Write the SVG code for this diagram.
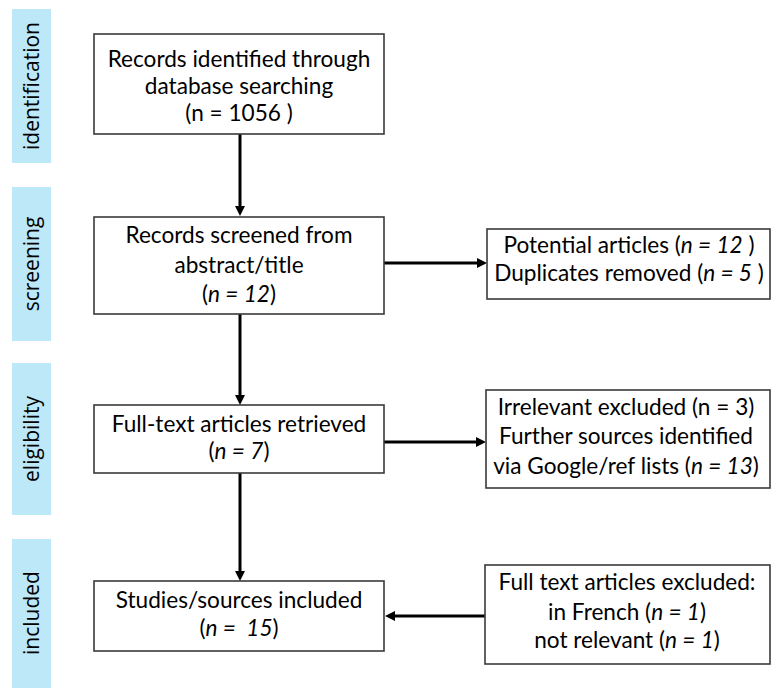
<svg xmlns="http://www.w3.org/2000/svg" width="771" height="688" viewBox="0 0 771 688">
<style>
.bar{fill:#bde8f8;}
.lbl{font-family:"Open Sans","DejaVu Sans",sans-serif;font-size:21px;fill:#000;text-anchor:middle;}
.box{fill:#fff;stroke:#3a3a3a;stroke-width:1.6;}
.t{font-family:Lato,"Liberation Sans",sans-serif;font-size:22.6px;fill:#000;text-anchor:middle;}
.i{font-style:italic;}
.con{stroke:#000;stroke-width:3;fill:none;}
</style>
<defs>
<marker id="ah" markerUnits="userSpaceOnUse" markerWidth="10" markerHeight="10" refX="0" refY="5" orient="auto" overflow="visible">
<path d="M0,0 L10,5 L0,10 z" fill="#000"/>
</marker>
</defs>
<rect width="771" height="688" fill="#fff"/>
<g id="stages">
<g id="stage-identification"><rect class="bar" x="12" y="9" width="39" height="154"/><text class="lbl" transform="translate(39,86) rotate(-90)">identification</text></g>
<g id="stage-screening"><rect class="bar" x="12" y="187" width="39" height="154"/><text class="lbl" transform="translate(39,264) rotate(-90)">screening</text></g>
<g id="stage-eligibility"><rect class="bar" x="12" y="363" width="39" height="152"/><text class="lbl" transform="translate(39,439) rotate(-90)">eligibility</text></g>
<g id="stage-included"><rect class="bar" x="12" y="539" width="39" height="149"/><text class="lbl" transform="translate(39,613) rotate(-90)">included</text></g>
</g>
<g id="connectors">
<line class="con" x1="240" y1="134" x2="240" y2="206" marker-end="url(#ah)"/>
<line class="con" x1="240" y1="314" x2="240" y2="395" marker-end="url(#ah)"/>
<line class="con" x1="240" y1="473" x2="240" y2="571" marker-end="url(#ah)"/>
<line class="con" x1="384" y1="263" x2="477" y2="263" marker-end="url(#ah)"/>
<line class="con" x1="384" y1="442" x2="476" y2="442" marker-end="url(#ah)"/>
<line class="con" x1="485" y1="616" x2="395" y2="616" marker-end="url(#ah)"/>
</g>
<g id="n1"><rect class="box" x="94" y="34" width="290" height="100"/>
<text class="t" x="239" y="67">Records identified through</text>
<text class="t" x="239" y="94">database searching</text>
<text class="t" x="239" y="121">(n = 1056 )</text></g>
<g id="n2"><rect class="box" x="94" y="217" width="290" height="97"/>
<text class="t" x="239" y="243">Records screened from</text>
<text class="t" x="239" y="273">abstract/title</text>
<text class="t" x="239" y="302">(<tspan class="i">n = 12</tspan>)</text></g>
<g id="n3"><rect class="box" x="487" y="229" width="283" height="70"/>
<text class="t" x="629" y="253">Potential articles (<tspan class="i">n = 12</tspan> )</text>
<text class="t" x="629" y="281">Duplicates removed (<tspan class="i">n = 5</tspan> )</text></g>
<g id="n4"><rect class="box" x="94" y="405" width="290" height="68"/>
<text class="t" x="239" y="432">Full-text articles retrieved</text>
<text class="t" x="239" y="459">(<tspan class="i">n = 7</tspan>)</text></g>
<g id="n5"><rect class="box" x="486" y="390" width="284" height="98"/>
<text class="t" x="626" y="415">Irrelevant excluded (n = 3)</text>
<text class="t" x="626" y="444">Further sources identified</text>
<text class="t" x="626" y="474">via Google/ref lists (<tspan class="i">n = 13</tspan>)</text></g>
<g id="n6"><rect class="box" x="94" y="581" width="290" height="70"/>
<text class="t" x="239" y="608">Studies/sources included</text>
<text class="t" x="239" y="636" xml:space="preserve">(<tspan class="i">n =  15</tspan>)</text></g>
<g id="n7"><rect class="box" x="485" y="565" width="285" height="99"/>
<text class="t" x="627" y="590">Full text articles excluded:</text>
<text class="t" x="627" y="620">in French (<tspan class="i">n = 1</tspan>)</text>
<text class="t" x="627" y="648">not relevant (<tspan class="i">n = 1</tspan>)</text></g>
</svg>
